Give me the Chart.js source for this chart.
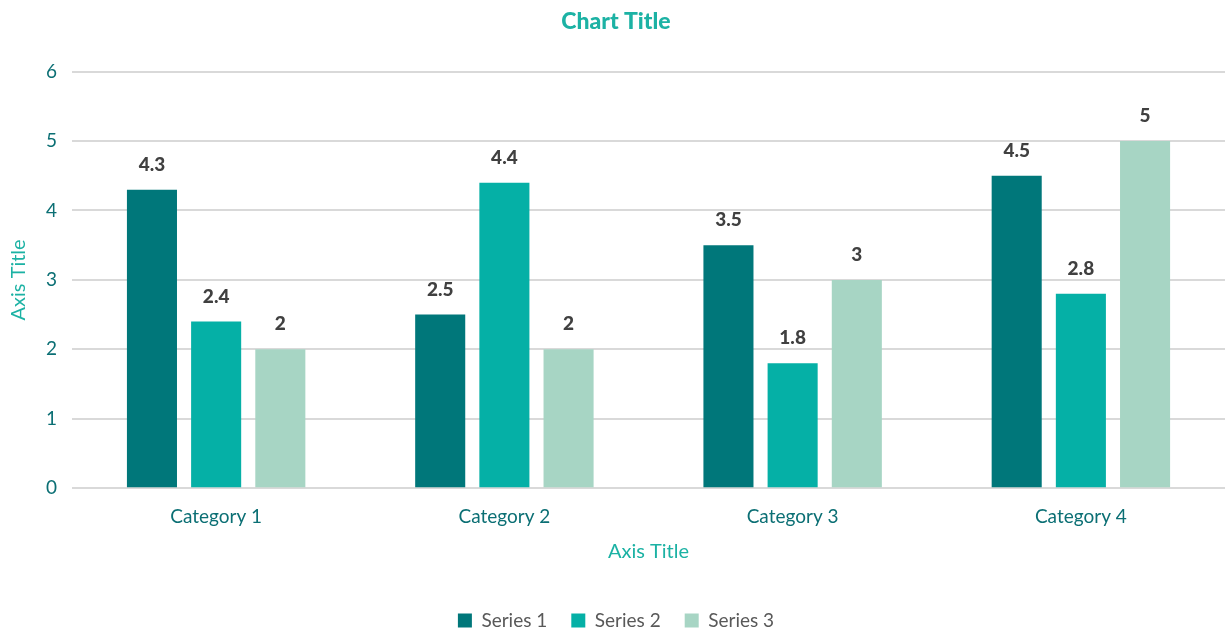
<!DOCTYPE html>
<html>
<head>
<meta charset="utf-8">
<script src="https://cdn.jsdelivr.net/npm/chart.js@4"></script>
<style>
  html, body { margin: 0; padding: 0; background: #fff; }
  #wrap { width: 1225px; height: 632px; }
</style>
</head>
<body>
<div id="wrap"><canvas id="chart"></canvas></div>
<script>
var categories = ['Category 1', 'Category 2', 'Category 3', 'Category 4'];
var series1 = [4.3, 2.5, 3.5, 4.5];
var series2 = [2.4, 4.4, 1.8, 2.8];
var series3 = [2, 2, 3, 5];
var seriesNames = ['Series 1', 'Series 2', 'Series 3'];
var seriesColors = ['#00777A', '#05B0A6', '#A7D5C4'];

var FONT = 'Lato, "Noto Sans", sans-serif';

// draws the value above each bar
var valueLabels = {
	id: 'valueLabels',
	afterDatasetsDraw: function (chart) {
		var ctx = chart.ctx;
		ctx.save();
		ctx.font = '900 19px ' + FONT;
		ctx.fillStyle = '#404040';
		ctx.textAlign = 'center';
		ctx.textBaseline = 'middle';
		chart.data.datasets.forEach(function (ds, i) {
			chart.getDatasetMeta(i).data.forEach(function (bar, j) {
				ctx.fillText(String(ds.data[j]), bar.x, bar.y - 25);
			});
		});
		ctx.restore();
	}
};

var ctx = document.getElementById('chart').getContext('2d');
new Chart(ctx, {
	type: 'bar',
	data: {
		labels: categories,
		datasets: [
			{ label: seriesNames[0], data: series1, backgroundColor: seriesColors[0] },
			{ label: seriesNames[1], data: series2, backgroundColor: seriesColors[1] },
			{ label: seriesNames[2], data: series3, backgroundColor: seriesColors[2] }
		]
	},
	options: {
		responsive: true,
		maintainAspectRatio: false,
		animation: false,
		categoryPercentage: 0.668,
		barPercentage: 0.78,
		layout: { padding: { left: 7, right: 0, top: 6, bottom: -8 } },
		plugins: {
			title: {
				display: true,
				text: 'Chart Title',
				color: '#1CB2A4',
				font: { family: FONT, size: 23, weight: '900' },
				padding: { top: 2, bottom: 36 }
			},
			legend: {
				position: 'bottom',
				labels: {
					color: '#595959',
					font: { family: FONT, size: 19 },
					boxWidth: 14,
					boxHeight: 14,
					padding: 24
				}
			},
			tooltip: { enabled: false }
		},
		scales: {
			x: {
				grid: { display: false },
				border: { display: false },
				ticks: { color: '#0B6F74', font: { family: FONT, size: 19 }, padding: 9 },
				title: {
					display: true,
					text: 'Axis Title',
					color: '#1CB2A4',
					font: { family: FONT, size: 20 },
					padding: { top: 3, bottom: 23 }
				}
			},
			y: {
				min: 0,
				max: 6,
				ticks: { stepSize: 1, color: '#0B6F74', font: { family: FONT, size: 19 }, padding: 15 },
				grid: { color: '#D9D9D9', lineWidth: 2, drawTicks: false },
				border: { display: false },
				title: {
					display: true,
					text: 'Axis Title',
					color: '#1CB2A4',
					font: { family: FONT, size: 20 },
					padding: { top: 0, bottom: 0 }
				}
			}
		}
	},
	plugins: [valueLabels]
});
</script>
</body>
</html>
